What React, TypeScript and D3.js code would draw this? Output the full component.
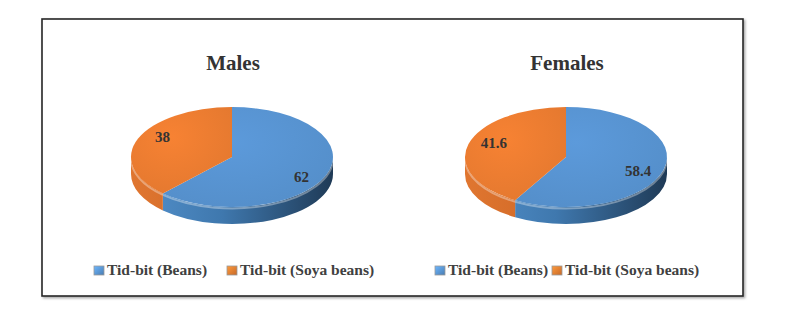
import React, { useEffect, useRef } from 'react';
import * as d3 from 'd3';

// chart data
const categories = ['Tid-bit (Beans)', 'Tid-bit (Soya beans)'];
const panelTitles = ['Males', 'Females'];
const malesValues = [62, 38];
const femalesValues = [58.4, 41.6];

const W = 791;
const H = 311;
const FONT = '"Liberation Serif", "Times New Roman", serif';

const topColors = ['#5894d2', '#ed7d31'];
const sideDark = ['#1f3a56', '#b9561a'];
const sideLight = ['#5391cc', '#e07630'];

interface PanelLayout {
  cx: number;
  legendX: number;
  legendGap: number;
}

const layouts: PanelLayout[] = [
  { cx: 232, legendX: 94, legendGap: 133 },
  { cx: 566, legendX: 435, legendGap: 117 },
];

const App: React.FC = () => {
  const svgRef = useRef<SVGSVGElement>(null);

  useEffect(() => {
    if (!svgRef.current) return;
    const svg = d3.select(svgRef.current);
    svg.selectAll('*').remove();

    const defs = svg.append('defs');

    // drop shadow for the frame
    const shadow = defs.append('filter').attr('id', 'frameShadow')
      .attr('x', '-5%').attr('y', '-5%').attr('width', '110%').attr('height', '110%');
    shadow.append('feDropShadow')
      .attr('dx', 1.5).attr('dy', 1.5).attr('stdDeviation', 1)
      .attr('flood-color', '#000').attr('flood-opacity', 0.35);

    // gradients
    categories.forEach((_, i) => {
      const side = defs.append('linearGradient').attr('id', `side${i}`)
        .attr('gradientUnits', 'userSpaceOnUse');
      side.attr('x1', 0).attr('x2', 1).attr('y1', 0).attr('y2', 0);

      const top = defs.append('radialGradient').attr('id', `top${i}`)
        .attr('cx', '40%').attr('cy', '35%').attr('r', '75%');
      top.append('stop').attr('offset', '0%').attr('stop-color', d3.color(topColors[i])!.brighter(0.12).formatHex());
      top.append('stop').attr('offset', '100%').attr('stop-color', d3.color(topColors[i])!.darker(0.12).formatHex());

      const mk = defs.append('linearGradient').attr('id', `mk${i}`)
        .attr('x1', 0).attr('y1', 0).attr('x2', 1).attr('y2', 1);
      mk.append('stop').attr('offset', '0%').attr('stop-color', d3.color(topColors[i])!.brighter(0.6).formatHex());
      mk.append('stop').attr('offset', '100%').attr('stop-color', d3.color(topColors[i])!.darker(0.5).formatHex());
    });

    svg.append('rect')
      .attr('width', W).attr('height', H).attr('fill', '#fff');

    // frame
    svg.append('rect')
      .attr('x', 42).attr('y', 19).attr('width', 701).attr('height', 277)
      .attr('fill', '#fff')
      .attr('stroke', '#262626').attr('stroke-width', 1.6)
      .attr('filter', 'url(#frameShadow)');

    const rx = 101;
    const ry = 50;
    const cy = 157;
    const depth = 17;

    const pie = d3.pie<number>().sort(null).value(d => d);

    [malesValues, femalesValues].forEach((values, p) => {
      const { cx, legendX, legendGap } = layouts[p];
      const arcs = pie(values);
      const g = svg.append('g');

      const pt = (a: number, dy = 0): [number, number] =>
        [cx + rx * Math.sin(a), cy - ry * Math.cos(a) + dy];

      // horizontal side gradients per panel
      categories.forEach((_, i) => {
        const grad = defs.append('linearGradient').attr('id', `side${p}_${i}`)
          .attr('gradientUnits', 'userSpaceOnUse')
          .attr('x1', cx - rx).attr('x2', cx + rx).attr('y1', 0).attr('y2', 0);
        if (i === 0) {
          grad.append('stop').attr('offset', '0%').attr('stop-color', sideLight[i]);
          grad.append('stop').attr('offset', '45%').attr('stop-color', '#3f78ae');
          grad.append('stop').attr('offset', '100%').attr('stop-color', sideDark[i]);
        } else {
          grad.append('stop').attr('offset', '0%').attr('stop-color', sideLight[i]);
          grad.append('stop').attr('offset', '100%').attr('stop-color', sideDark[i]);
        }
      });

      // sides (front half only: angles between PI/2 and 3PI/2)
      arcs.forEach((a, i) => {
        const s = Math.max(a.startAngle, Math.PI / 2);
        const e = Math.min(a.endAngle, (3 * Math.PI) / 2);
        if (e <= s) return;
        const large = e - s > Math.PI ? 1 : 0;
        const [x0, y0] = pt(s);
        const [x1, y1] = pt(e);
        const path = d3.path();
        path.moveTo(x0, y0);
        const d = `M${x0},${y0} A${rx},${ry} 0 ${large} 1 ${x1},${y1} L${x1},${y1 + depth} A${rx},${ry} 0 ${large} 0 ${x0},${y0 + depth} Z`;
        g.append('path').attr('d', d).attr('fill', `url(#side${p}_${i})`);
        // soft highlight on the rim
        g.append('path')
          .attr('d', `M${x0},${y0 + 1.5} A${rx},${ry} 0 ${large} 1 ${x1},${y1 + 1.5}`)
          .attr('fill', 'none').attr('stroke', '#ffffff').attr('stroke-opacity', 0.35).attr('stroke-width', 2);
      });

      // top faces
      arcs.forEach((a, i) => {
        const large = a.endAngle - a.startAngle > Math.PI ? 1 : 0;
        const [x0, y0] = pt(a.startAngle);
        const [x1, y1] = pt(a.endAngle);
        g.append('path')
          .attr('d', `M${cx},${cy} L${x0},${y0} A${rx},${ry} 0 ${large} 1 ${x1},${y1} Z`)
          .attr('fill', `url(#top${i})`);
      });

      // data labels
      arcs.forEach(a => {
        const mid = (a.startAngle + a.endAngle) / 2;
        g.append('text')
          .attr('x', cx + rx * 0.74 * Math.sin(mid))
          .attr('y', cy - ry * 1.09 * Math.cos(mid))
          .attr('dy', '0.35em')
          .attr('text-anchor', 'middle')
          .attr('font-family', FONT)
          .attr('font-weight', 'bold')
          .attr('font-size', '15px')
          .attr('fill', '#333')
          .text(String(a.data));
      });

      // title
      g.append('text')
        .attr('x', cx + 1)
        .attr('y', 70)
        .attr('text-anchor', 'middle')
        .attr('font-family', FONT)
        .attr('font-weight', 'bold')
        .attr('font-size', '21px')
        .attr('fill', '#333')
        .text(panelTitles[p]);

      // legend
      categories.forEach((c, i) => {
        const lx = legendX + i * legendGap;
        g.append('rect')
          .attr('x', lx).attr('y', 266).attr('width', 10).attr('height', 9)
          .attr('fill', `url(#mk${i})`)
          .attr('stroke', '#9a9a9a').attr('stroke-width', 0.8);
        g.append('text')
          .attr('x', lx + 13)
          .attr('y', 275)
          .attr('font-family', FONT)
          .attr('font-weight', 'bold')
          .attr('font-size', '15.5px')
          .attr('fill', '#404040')
          .text(c);
      });
    });
  }, []);

  return (
    <svg
      ref={svgRef}
      width={W}
      height={H}
      style={{ position: 'absolute', left: 0, top: 0, display: 'block' }}
    />
  );
};

export default App;
